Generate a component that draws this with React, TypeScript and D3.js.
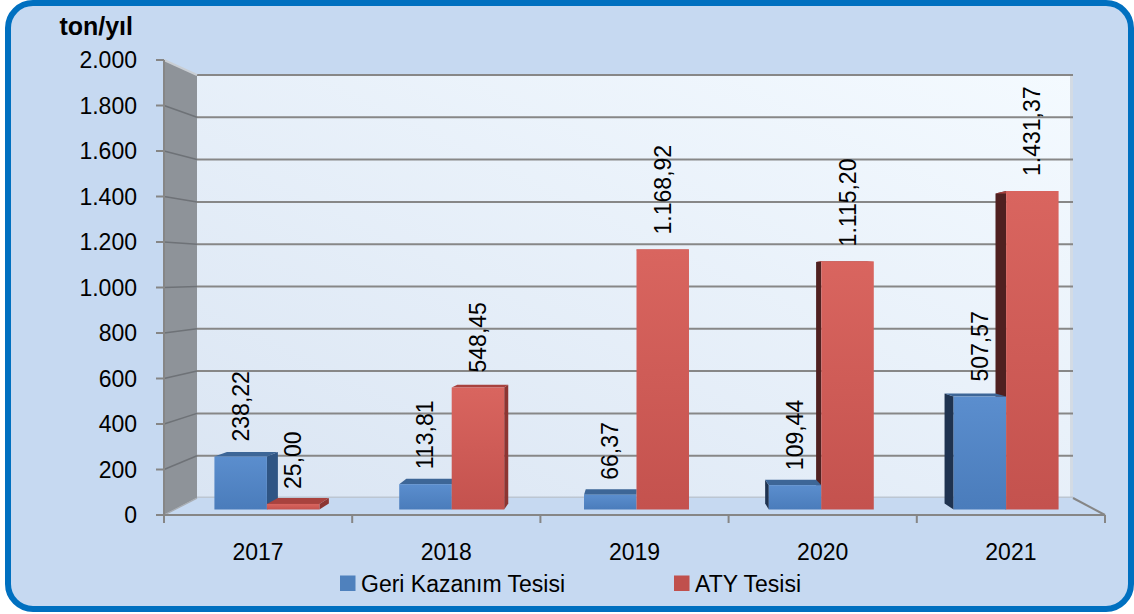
import React from 'react';
import * as d3 from 'd3';

const categories = ['2017', '2018', '2019', '2020', '2021'];
const geriKazanim = [238.22, 113.81, 66.37, 109.44, 507.57];
const atyTesisi = [25.0, 548.45, 1168.92, 1115.2, 1431.37];
const seriesNames = ['Geri Kazanım Tesisi', 'ATY Tesisi'];
const yTicks = [0, 200, 400, 600, 800, 1000, 1200, 1400, 1600, 1800, 2000];
const yUnit = 'ton/yıl';

const trLocale = d3.formatLocale({ decimal: ',', thousands: '.', grouping: [3], currency: ['', ''] });
const fmtTick = trLocale.format(',');
const fmtVal = trLocale.format(',.2f');

const FONT = "'Liberation Sans', Arial, sans-serif";

const seriesStyle = [
  { grad: 'gBlue', top: '#3D6697', left: '#1F3350', right: '#2F5584', legend: '#4F81BD' },
  { grad: 'gRed', top: '#A8423E', left: '#4F2020', right: '#8C3532', legend: '#C0504D' },
];

export default function App() {
  const W = 1134;
  const H = 614;
  // walls: front plane and back plane
  const fx = d3.scaleLinear().domain([0, 1]).range([164, 1105]);
  const bx = d3.scaleLinear().domain([0, 1]).range([197, 1073]);
  const fy = d3.scaleLinear().domain([0, 2000]).range([515, 60]);
  const by = d3.scaleLinear().domain([0, 2000]).range([498, 75]);
  // bar depth planes
  const barFx = d3.scaleLinear().domain([0, 1]).range([174.5, 1098.5]);
  const barBx = d3.scaleLinear().domain([0, 1]).range([188.2, 1085.2]);
  const barFy = d3.scaleLinear().domain([0, 2000]).range([509.5, 64.5]);
  const barBy = d3.scaleLinear().domain([0, 2000]).range([503.5, 70.5]);
  const band = d3.scaleBand<string>().domain(categories).range([0, 1]);
  const bw = 0.0568;

  const bars: { a: number; b: number; v: number; s: number; key: string }[] = [];
  categories.forEach((c, i) => {
    const uc = (band(c) as number) + band.bandwidth() / 2;
    bars.push({ a: uc - bw, b: uc, v: geriKazanim[i], s: 0, key: c + 'g' });
    bars.push({ a: uc, b: uc + bw, v: atyTesisi[i], s: 1, key: c + 'a' });
  });

  const P = (pts: [number, number][]) => pts.map((p) => p.join(',')).join(' ');

  const sides: JSX.Element[] = [];
  const tops: JSX.Element[] = [];
  const fronts: JSX.Element[] = [];
  const labels: JSX.Element[] = [];
  bars.forEach((bar) => {
    const st = seriesStyle[bar.s];
    const xa = barFx(bar.a), xb = barFx(bar.b);
    const xa2 = barBx(bar.a), xb2 = barBx(bar.b);
    const yt = barFy(bar.v), y0 = barFy(0);
    const yt2 = barBy(bar.v), y02 = barBy(0);
    if (xa2 < xa - 0.5) {
      sides.push(<polygon key={bar.key + 'l'} points={P([[xa, y0], [xa, yt], [xa2, yt2], [xa2, y02]])} fill={st.left} />);
    }
    if (xb2 > xb + 0.5) {
      sides.push(<polygon key={bar.key + 'r'} points={P([[xb, y0], [xb, yt], [xb2, yt2], [xb2, y02]])} fill={st.right} />);
    }
    tops.push(<polygon key={bar.key + 't'} points={P([[xa, yt], [xb, yt], [xb2, yt2], [xa2, yt2]])} fill={st.top} />);
    fronts.push(<rect key={bar.key + 'f'} x={xa} y={yt} width={xb - xa} height={y0 - yt} fill={`url(#${st.grad})`} />);
    const lx = (xa + xb) / 2 + 8;
    const ly = yt - 15;
    labels.push(
      <text key={bar.key + 'v'} x={lx} y={ly} transform={`rotate(-90 ${lx} ${ly})`} fontSize={23} fontFamily={FONT} fill="#000">
        {fmtVal(bar.v)}
      </text>
    );
  });

  return (
    <svg width={W} height={H} style={{ position: 'absolute', left: 0, top: 0, display: 'block' }}>
      <defs>
        <linearGradient id="gBack" x1="0" y1="1" x2="1" y2="0">
          <stop offset="0" stopColor="#DAE5F3" />
          <stop offset="1" stopColor="#F4FAFF" />
        </linearGradient>
        <linearGradient id="gBlue" x1="0" y1="0" x2="0" y2="1">
          <stop offset="0" stopColor="#5B8ECE" />
          <stop offset="1" stopColor="#4A7CBB" />
        </linearGradient>
        <linearGradient id="gRed" x1="0" y1="0" x2="0" y2="1">
          <stop offset="0" stopColor="#D9655F" />
          <stop offset="1" stopColor="#C4524E" />
        </linearGradient>
      </defs>
      <rect x={8} y={3} width={1123} height={606} rx={25} ry={25} fill="#C6D9F1" stroke="#0070C0" strokeWidth={6} />

      {/* back wall */}
      <rect x={bx(0)} y={by(2000)} width={bx(1) - bx(0)} height={by(0) - by(2000)} fill="url(#gBack)" />
      <line x1={bx(1) - 1.5} x2={bx(1) - 1.5} y1={by(2000)} y2={by(0)} stroke="#D3DBE4" strokeWidth={3} />
      <line x1={bx(0)} x2={bx(1)} y1={by(0)} y2={by(0)} stroke="#BCC6D2" strokeWidth={3} />
      {/* left wall */}
      <polygon points={P([[fx(0), fy(2000)], [bx(0), by(2000)], [bx(0), by(0)], [fx(0), fy(0)]])} fill="#8E9399" />
      {/* gridlines */}
      {yTicks.map((t) => (
        <g key={'g' + t}>
          {t > 0 && <line x1={bx(0)} x2={bx(1)} y1={by(t)} y2={by(t)} stroke="#878787" strokeWidth={2} />}
          <line x1={fx(0)} x2={bx(0)} y1={fy(t)} y2={by(t)} stroke={t === 2000 ? '#C9CED4' : '#6E7277'} strokeWidth={t === 2000 ? 2 : 1.5} />
          <line x1={156} x2={fx(0)} y1={fy(t)} y2={fy(t)} stroke="#868686" strokeWidth={2} />
          <text x={137} y={fy(t)} dy="0.36em" textAnchor="end" fontSize={23} fontFamily={FONT} fill="#000">
            {fmtTick(t)}
          </text>
        </g>
      ))}
      {/* floor */}
      <polygon points={P([[fx(0), fy(0)], [bx(0), by(0)], [bx(1), by(0)], [fx(1), fy(0)]])} fill="#C6D9F1" />
      <line x1={fx(0)} x2={bx(0)} y1={fy(0)} y2={by(0)} stroke="#A9AEB4" strokeWidth={1.5} />
      <line x1={bx(1)} x2={fx(1)} y1={by(0)} y2={fy(0)} stroke="#868686" strokeWidth={2} />
      <line x1={156} x2={fx(1)} y1={fy(0)} y2={fy(0)} stroke="#868686" strokeWidth={2} />
      <line x1={fx(0)} x2={fx(0)} y1={fy(2000)} y2={fy(0) + 8} stroke="#868686" strokeWidth={2} />
      {d3.range(0, categories.length + 1).map((i) => {
        const u = i / categories.length;
        return <line key={'xt' + i} x1={fx(u)} x2={fx(u)} y1={fy(0)} y2={fy(0) + 8} stroke="#868686" strokeWidth={2} />;
      })}

      {/* bars */}
      {sides}
      {tops}
      {fronts}
      {labels}

      {/* category labels */}
      {categories.map((c) => {
        const u = (band(c) as number) + band.bandwidth() / 2;
        return (
          <text key={'c' + c} x={fx(u)} y={560} textAnchor="middle" fontSize={23} fontFamily={FONT} fill="#000">
            {c}
          </text>
        );
      })}

      <text x={133} y={35} textAnchor="end" fontSize={25} fontWeight="bold" fontFamily={FONT} fill="#000">
        {yUnit}
      </text>

      {/* legend */}
      <rect x={340} y={575.5} width={15.5} height={15.5} fill={seriesStyle[0].legend} />
      <text x={361} y={592} fontSize={23} fontFamily={FONT} fill="#000">{seriesNames[0]}</text>
      <rect x={674} y={575.5} width={15.5} height={15.5} fill={seriesStyle[1].legend} />
      <text x={695} y={592} fontSize={23} fontFamily={FONT} fill="#000">{seriesNames[1]}</text>
    </svg>
  );
}
